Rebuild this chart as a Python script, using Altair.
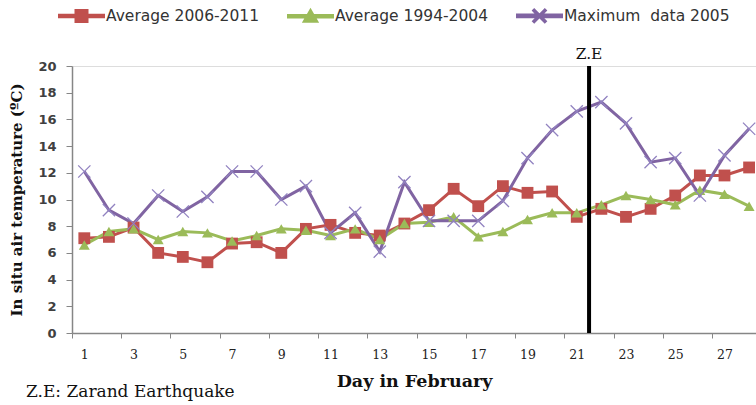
import altair as alt
import pandas as pd

# Daily air temperature in February (day 1..28)
days = list(range(1, 29))
avg_2006_2011 = [7.1, 7.2, 7.9, 6.0, 5.7, 5.3, 6.7, 6.8, 6.0, 7.8, 8.1, 7.5, 7.3, 8.2,
                 9.2, 10.8, 9.5, 11.0, 10.5, 10.6, 8.7, 9.3, 8.7, 9.3, 10.3, 11.8, 11.8, 12.4]
avg_1994_2004 = [6.6, 7.6, 7.8, 7.0, 7.6, 7.5, 6.9, 7.3, 7.8, 7.7, 7.3, 7.8, 7.0, 8.2,
                 8.3, 8.7, 7.2, 7.6, 8.5, 9.0, 9.0, 9.6, 10.3, 10.0, 9.6, 10.7, 10.4, 9.5]
max_2005 = [12.1, 9.2, 8.2, 10.3, 9.1, 10.2, 12.1, 12.1, 10.0, 11.0, 7.5, 9.0, 6.1, 11.3,
            8.4, 8.4, 8.4, 9.9, 13.1, 15.2, 16.6, 17.3, 15.7, 12.8, 13.1, 10.3, 13.3, 15.3]

series_names = ["Average 2006-2011", "Average 1994-2004", "Maximum\u00a0 data 2005"]
series_colors = ["#C0504D", "#9BBB59", "#8064A2"]
quake_day = 21.5
y_ticks = list(range(0, 21, 2))

rows = []
for name, vals in zip(series_names, [avg_2006_2011, avg_1994_2004, max_2005]):
    for d, v in zip(days, vals):
        rows.append({"day": d, "series": name, "temp": v})
df = pd.DataFrame(rows)
one_row = pd.DataFrame({"quake": [quake_day]})

SERIF = "DejaVu Serif"
step_px = 684 / (28.28 - 0.5)

x_enc = alt.X(
    "day:Q",
    scale=alt.Scale(domain=[0.5, 28.28], nice=False, zero=False),
    axis=alt.Axis(
        values=days, tickOffset=-step_px / 2, labelOffset=step_px / 2,
        labelExpr="datum.value % 2 == 1 ? datum.label : ''", labelOverlap=False,
        labelFont=SERIF, labelFontSize=12.5, labelColor="#222222", labelPadding=10,
        tickSize=5, tickColor="#868686", domainColor="#868686", domainWidth=1.5,
        grid=False, title="Day in February", titleFont=SERIF, titleFontSize=17.5,
        titleFontWeight="bold", titleColor="#111111", titlePadding=12,
    ),
)
y_enc = alt.Y(
    "temp:Q",
    scale=alt.Scale(domain=[0, 20], nice=False),
    axis=alt.Axis(
        values=y_ticks, labelOverlap=False, labelFont="DejaVu Sans", labelFontSize=13,
        labelFontWeight="bold", labelColor="#404040", labelPadding=10, tickSize=6,
        tickColor="#868686", domainColor="#868686", domainWidth=1.5, grid=False,
        title="In situ air temperature (\u00baC)", titleFont=SERIF, titleFontSize=15,
        titleFontWeight="bold", titleColor="#111111", titlePadding=13,
    ),
)

base = alt.Chart(df)

# Legend glyphs (filled outlines): a short line with the series marker in the middle
legend_shapes = [
    "M-2,-0.07H2V0.07H-2ZM-0.5,-0.5H0.5V0.5H-0.5Z",
    "M-2,-0.07H2V0.07H-2ZM-0.55,0.45L0,-0.5L0.55,0.45Z",
    "M-2,-0.08H2V0.08H-2Z"
    "M-0.52,-0.48L0.48,0.52L0.52,0.48L-0.48,-0.52Z"
    "M-0.52,0.48L-0.48,0.52L0.52,-0.48L0.48,-0.52Z",
]
legend_layer = base.mark_point(filled=True, size=0, opacity=1).encode(
    x=x_enc, y=y_enc,
    color=alt.Color("series:N", scale=alt.Scale(domain=series_names, range=series_colors),
                    legend=alt.Legend(
                        orient="none", direction="horizontal", legendX=-3, legendY=-63,
                        title=None, symbolSize=484, symbolStrokeWidth=0,
                        labelFont="DejaVu Sans", labelFontSize=15.5, labelColor="#333333",
                        labelOffset=12, columnPadding=22, symbolOpacity=1, labelLimit=400,
                    )),
    shape=alt.Shape("series:N", scale=alt.Scale(domain=series_names, range=legend_shapes)),
)

lines = base.mark_line().encode(
    x=x_enc, y=y_enc,
    stroke=alt.Stroke("series:N", scale=alt.Scale(domain=series_names, range=series_colors), legend=None),
    strokeWidth=alt.StrokeWidth("series:N", scale=alt.Scale(domain=series_names, range=[3, 3, 3.6]), legend=None),
    detail="series:N",
)

squares = base.transform_filter(alt.datum.series == series_names[0]).mark_point(
    shape="square", filled=True, size=140, color=series_colors[0], opacity=1
).encode(x=x_enc, y=y_enc)

triangles = base.transform_filter(alt.datum.series == series_names[1]).mark_point(
    shape="triangle-up", filled=True, size=120, color=series_colors[1], opacity=1
).encode(x=x_enc, y=y_enc)

crosses = base.transform_filter(alt.datum.series == series_names[2]).mark_point(
    shape="M-1,-1L1,1M-1,1L1,-1", filled=False, size=150, color="#9182C0",
    strokeWidth=1.3, opacity=1
).encode(x=x_enc, y=y_enc)

quake_rule = alt.Chart(one_row).mark_rule(color="#000000", strokeWidth=4).encode(
    x=alt.X("quake:Q")
)
quake_label = alt.Chart(one_row).mark_text(
    text="Z.E", font=SERIF, fontSize=15.5, color="#111111", baseline="middle"
).encode(x=alt.X("quake:Q"), y=alt.value(-12))

note = alt.Chart(one_row).mark_text(
    text="Z.E: Zarand Earthquake", font=SERIF, fontSize=17, color="#111111",
    align="left", baseline="middle"
).encode(x=alt.value(-46), y=alt.value(59 + 267))

chart = alt.layer(
    legend_layer, lines, squares, triangles, crosses, quake_rule, quake_label, note
).properties(
    width=684, height=267,
    padding={"left": 72, "top": 66, "right": 0, "bottom": 72},
    autosize=alt.AutoSizeParams(type="none"),
).configure_view(stroke=None).configure(background="white")

chart.save("out.html", embed_options={"renderer": "svg", "actions": False})
